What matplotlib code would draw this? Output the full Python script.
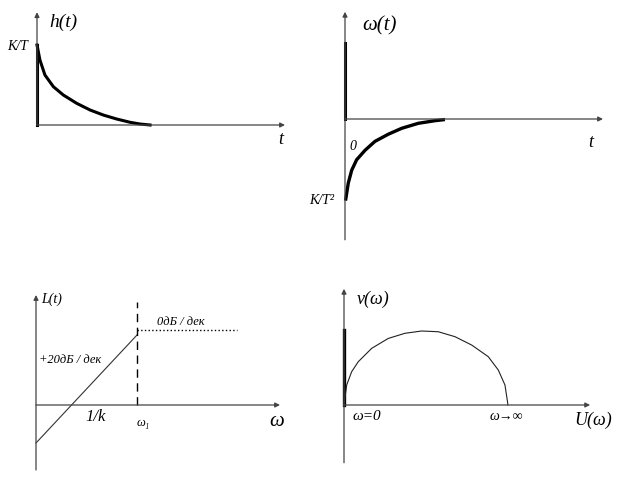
import matplotlib
import matplotlib.pyplot as plt

matplotlib.use("Agg")

W, H = 623, 479

# h(t): impulse response, K/T = 1
h_t = [0.0, 0.12, 0.32, 0.66, 1.06, 1.60, 2.14, 2.67, 3.21, 3.75, 4.15, 4.56]
h_v = [1.0, 0.81, 0.625, 0.479, 0.375, 0.271, 0.1875, 0.125, 0.075, 0.034,
       0.0125, 0.0]
h_axis_x = [0.0, 10.0]
h_axis_y = [0.0, 1.41]

# omega(t): K/T^2 = -1
w_t = [0.03, 0.128, 0.26, 0.45, 0.78, 1.16, 1.68, 2.20, 2.84, 3.49, 3.81]
w_v = [-1.0, -0.80, -0.64, -0.51, -0.39, -0.28, -0.19, -0.116, -0.054,
       -0.021, -0.009]
w_jump = [0.0, 0.95]
w_axis_x = [0.0, 10.0]
w_axis_y = [-1.51, 1.34]

# L(omega): asymptotic LAFC
L_rise_w = [0.0, 4.14]
L_rise_v = [-3.8, 7.0]
L_flat_w = [4.14, 8.24]
L_flat_v = [7.5, 7.5]
L_w1 = 4.14
L_w1_v = [0.0, 10.3]
L_axis_x = [0.0, 10.0]
L_axis_y = [-6.5, 11.0]

# Nyquist plot V(U)
ny_u = [0.0, 0.033, 0.094, 0.175, 0.34, 0.544, 0.748, 0.953, 1.157, 1.362,
        1.567, 1.77, 1.893, 1.975, 2.009, 2.01]
ny_v = [0.0, 0.27, 0.45, 0.585, 0.766, 0.90, 0.969, 1.0, 0.99, 0.923,
        0.81, 0.653, 0.473, 0.27, 0.023, 0.0]
ny_jump = [0.0, 1.01]
ny_axis_x = [0.0, 3.02]
ny_axis_y = [-0.78, 1.57]

AXC = "#444444"


def panel(fig, ox, oy, sx, sy, box):
    l, t, r, b = box
    ax = fig.add_axes([l / W, 1 - b / H, (r - l) / W, (b - t) / H])
    ax.set_xlim((l - ox) / sx, (r - ox) / sx)
    ax.set_ylim((oy - b) / sy, (oy - t) / sy)
    ax.axis("off")
    return ax


def axes_arrows(ax, xs, ys):
    ap = dict(arrowstyle="-|>", lw=0.9, color=AXC, mutation_scale=7,
              shrinkA=0, shrinkB=0)
    ax.annotate("", xy=(xs[1], 0), xytext=(xs[0], 0), arrowprops=ap)
    ax.annotate("", xy=(0, ys[1]), xytext=(0, ys[0]), arrowprops=ap)


def label(fig, px, py, s, size, **kw):
    fig.text(px / W, 1 - py / H, s, fontsize=size, family="Liberation Serif",
             style="italic", ha="center", va="center", **kw)


def main():
    fig = plt.figure(figsize=(W / 100, H / 100), dpi=100)

    ax1 = panel(fig, 37, 125, 24.8, 80, (0, 0, 311, 239))
    axes_arrows(ax1, h_axis_x, h_axis_y)
    ax1.plot([0, 0], [0, h_v[0]], color="black", lw=2.2)
    ax1.plot(h_t, h_v, color="black", lw=2.2, solid_joinstyle="round")

    ax2 = panel(fig, 345, 119, 25.8, 80, (311, 0, 623, 239))
    axes_arrows(ax2, w_axis_x, w_axis_y)
    ax2.plot([0, 0], w_jump, color="black", lw=2.2)
    ax2.plot(w_t, w_v, color="black", lw=2.4, solid_joinstyle="round")

    ax3 = panel(fig, 36, 405, 24.4, 10, (0, 240, 311, 479))
    axes_arrows(ax3, L_axis_x, L_axis_y)
    ax3.plot(L_rise_w, L_rise_v, color="#333333", lw=0.8)
    ax3.plot(L_flat_w, L_flat_v, color="black", lw=1.0, ls=":")
    ax3.plot([L_w1, L_w1], L_w1_v, color="black", lw=1.0, dashes=(6, 4))

    ax4 = panel(fig, 344, 405, 81.5, 74, (311, 240, 623, 479))
    axes_arrows(ax4, ny_axis_x, ny_axis_y)
    ax4.plot([0, 0], ny_jump, color="black", lw=2.4)
    ax4.plot(ny_u, ny_v, color="#222222", lw=0.8)

    label(fig, 63, 22, "h(t)", 14)
    label(fig, 18, 47, "K/T", 10)
    label(fig, 281, 140, "t", 13)
    label(fig, 380, 26, "ω(t)", 15)
    label(fig, 353, 147, "0", 10, )
    label(fig, 591, 142, "t", 13)
    label(fig, 322, 200, "K/T²", 10)
    label(fig, 52, 299, "L(t)", 10)
    label(fig, 181, 322, "0дБ / дек", 9)
    label(fig, 70, 360, "+20дБ / дек", 9)
    label(fig, 96, 417, "1/k", 12)
    label(fig, 143, 423, "ω₁", 9)
    label(fig, 277, 421, "ω", 15)
    label(fig, 373, 299, "v(ω)", 13)
    label(fig, 367, 417, "ω=0", 11)
    label(fig, 506, 416, "ω→∞", 10)
    label(fig, 593, 420, "U(ω)", 13)

    fig.savefig("out.png", dpi=100)
    return 0


if __name__ == "__main__":
    main()
